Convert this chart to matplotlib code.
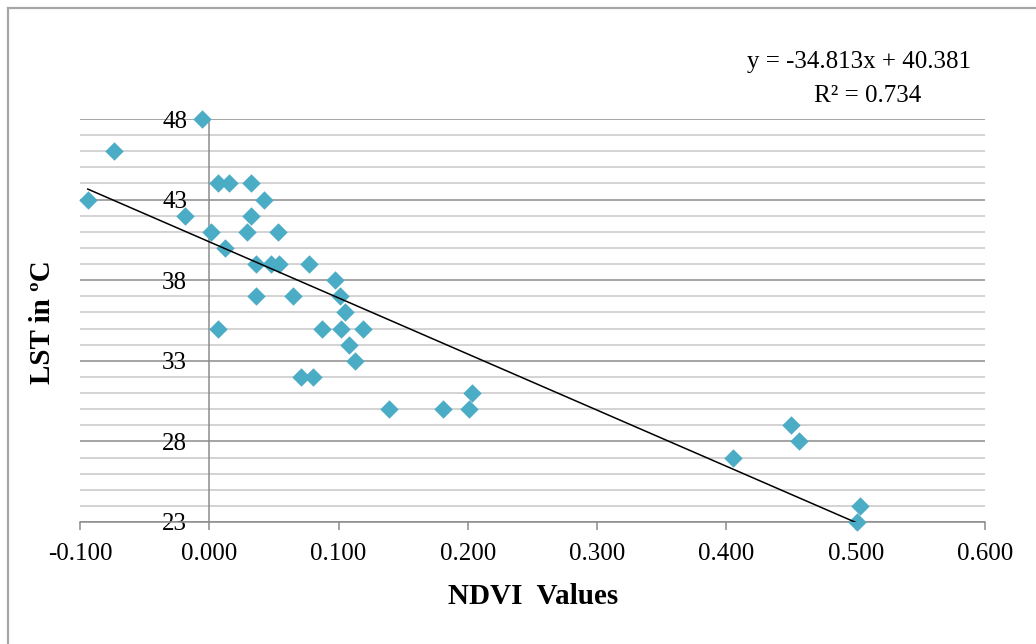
import matplotlib
matplotlib.use("Agg")
import matplotlib.pyplot as plt
from matplotlib.lines import Line2D
from matplotlib.ticker import MultipleLocator, FixedLocator
import numpy as np

# NDVI vs LST samples
ndvi = [-0.006, -0.074, -0.094, -0.019, 0.001, 0.007, 0.012, 0.007, 0.015, 0.032,
        0.042, 0.032, 0.029, 0.053, 0.036, 0.048, 0.054, 0.036, 0.065, 0.077,
        0.097, 0.101, 0.105, 0.102, 0.087, 0.119, 0.108, 0.113, 0.071, 0.080,
        0.139, 0.181, 0.201, 0.203, 0.405, 0.450, 0.456, 0.503, 0.501]
lst = [48, 46, 43, 42, 41, 35, 40, 44, 44, 44,
       43, 42, 41, 41, 39, 39, 39, 37, 37, 39,
       38, 37, 36, 35, 35, 35, 34, 33, 32, 32,
       30, 30, 30, 31, 27, 29, 28, 24, 23]

# Linear trendline as printed on the chart
SLOPE = -34.813
INTERCEPT = 40.381
R2 = 0.734

x_ticks = [-0.1, 0.0, 0.1, 0.2, 0.3, 0.4, 0.5, 0.6]
y_ticks = [23, 28, 33, 38, 43, 48]

plt.rcParams["font.family"] = ["Liberation Serif", "DejaVu Serif"]

fig = plt.figure(figsize=(10.36, 6.44), dpi=100)
ax = fig.add_axes([80 / 1036, 1 - 522 / 644, 905 / 1036, 403 / 644])

ax.set_xlim(-0.1, 0.6)
ax.set_ylim(23, 48)

# gridlines
ax.yaxis.set_major_locator(FixedLocator(y_ticks))
ax.yaxis.set_minor_locator(MultipleLocator(1))
ax.grid(True, which="major", axis="y", color="#8c8c8c", linewidth=1.1)
ax.grid(True, which="minor", axis="y", color="#c8c8c8", linewidth=1.1)
ax.set_axisbelow(True)

# spines: y axis crosses at x = 0
for s in ["top", "right"]:
    ax.spines[s].set_visible(False)
ax.spines["left"].set_position(("data", 0))
ax.spines["left"].set_color("#8c8c8c")
ax.spines["left"].set_linewidth(1.1)
ax.spines["bottom"].set_color("#8c8c8c")
ax.spines["bottom"].set_linewidth(1.1)

ax.set_xticks(x_ticks)
ax.set_xticklabels([f"{v:.3f}" for v in x_ticks])
ax.tick_params(axis="x", which="major", length=6, width=1.1, color="#8c8c8c",
               labelsize=18, pad=9)
ax.tick_params(axis="y", which="both", length=0, labelsize=18, pad=16)

ax.scatter(ndvi, lst, marker="D", s=88, color="#4bacc6", zorder=3, clip_on=False,
           linewidths=0)

xs = np.array([min(ndvi), max(ndvi)])
ax.plot(xs, SLOPE * xs + INTERCEPT, color="black", linewidth=1.1, zorder=4)

fig.text(859 / 1036, 1 - 62 / 644, f"y = {SLOPE}x + {INTERCEPT}", ha="center",
         va="center", fontsize=18)
fig.text(868 / 1036, 1 - 96 / 644, f"R² = {R2}", ha="center", va="center", fontsize=18)

fig.text(533 / 1036, 1 - 597 / 644, "NDVI  Values", ha="center", va="center",
         fontsize=21, fontweight="bold")
fig.text(42 / 1036, 1 - 322 / 644, "LST in ºC", ha="center", va="center",
         rotation=90, fontsize=21, fontweight="bold")

# chart-area border (only top and left visible in the crop)
fig.add_artist(Line2D([7.5 / 1036, 1], [1 - 7.5 / 644] * 2, color="#a6a6a6",
                      linewidth=1.6, transform=fig.transFigure))
fig.add_artist(Line2D([7.5 / 1036] * 2, [0, 1 - 7.5 / 644], color="#a6a6a6",
                      linewidth=1.6, transform=fig.transFigure))

fig.savefig("out.png", dpi=100)
